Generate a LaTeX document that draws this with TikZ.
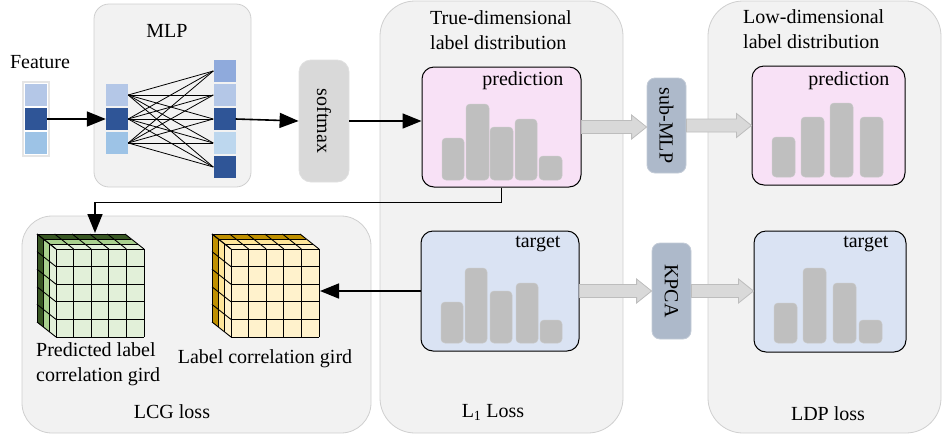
\documentclass[tikz,border=0pt]{standalone}
\usepackage{fontspec}
\setmainfont{Liberation Serif}
\usetikzlibrary{arrows.meta,calc}
\definecolor{panelfill}{HTML}{F2F2F2}
\definecolor{paneledge}{HTML}{CFCFCF}
\definecolor{softfill}{HTML}{D9D9D9}
\definecolor{procfill}{HTML}{ADB9CA}
\definecolor{procedge}{HTML}{C3CBD7}
\definecolor{predfill}{HTML}{F8E1F6}
\definecolor{targfill}{HTML}{DAE3F3}
\definecolor{barfill}{HTML}{BFBFBF}
\definecolor{arrfill}{HTML}{D9D9D9}
\definecolor{arredge}{HTML}{BDBDBD}
\definecolor{vA}{HTML}{B4C7E7}
\definecolor{vB}{HTML}{2F5597}
\definecolor{vC}{HTML}{9DC3E6}
\definecolor{vD}{HTML}{8FAADC}
\definecolor{vE}{HTML}{BDD7EE}
\definecolor{gD}{HTML}{385723}
\definecolor{gM}{HTML}{A9D18E}
\definecolor{gL}{HTML}{E2F0D9}
\definecolor{yD}{HTML}{BF9000}
\definecolor{yM}{HTML}{FFE699}
\definecolor{yL}{HTML}{FFF2CC}
\tikzset{
  panel/.style={fill=panelfill, draw=paneledge, line width=0.8pt, rounded corners=#1},
  panel/.default=30pt,
  distbox/.style={draw=black, line width=1pt, rounded corners=12pt, inner sep=0pt},
  procbox/.style={draw=procedge, fill=procfill, line width=0.8pt, rounded corners=8pt, inner sep=0pt},
  vecsq/.style={minimum width=22pt, minimum height=22pt, inner sep=0pt},
  arr/.style={line width=1.6pt, -{Triangle[length=19pt,width=15pt]}},
  conn/.style={line width=0.8pt},
  blk/.style={fill=arrfill, draw=arredge, line width=0.8pt},
  bar/.style={fill=barfill, draw=barfill!85!white, line width=0.5pt, rounded corners=4pt},
  gridln/.style={line width=0.9pt, draw=black},
}
\newcommand\blockarr[2]{\draw[blk] let \p1=(#1), \p2=(#2) in
  (\x1,\y1+6.5pt) -- (\x2-15pt,\y1+6.5pt) -- (\x2-15pt,\y1+12pt) -- (\x2,\y1)
  -- (\x2-15pt,\y1-12pt) -- (\x2-15pt,\y1-6.5pt) -- (\x1,\y1-6.5pt) -- cycle;}
% cube: #1 x0, #2 y0 (front face top-left), #3 dark, #4 mid, #5 light
\newcommand\gridcube[5]{%
  \def\cx{#1}\def\cy{#2}\def\ddx{-19}\def\ddy{-15}\def\cw{88}\def\cs{17.6}%
  \foreach \sa/\sb/\cc in {1/0.6667/#3,0.6667/0.3333/#4,0.3333/0/#5}{
    \fill[\cc] ({\cx+\sa*\ddx},{\cy+\sa*\ddy}) -- ({\cx+\cw+\sa*\ddx},{\cy+\sa*\ddy})
      -- ({\cx+\cw+\sb*\ddx},{\cy+\sb*\ddy}) -- ({\cx+\sb*\ddx},{\cy+\sb*\ddy}) -- cycle;
    \fill[\cc] ({\cx+\sa*\ddx},{\cy+\sa*\ddy}) -- ({\cx+\sa*\ddx},{\cy+\cw+\sa*\ddy})
      -- ({\cx+\sb*\ddx},{\cy+\cw+\sb*\ddy}) -- ({\cx+\sb*\ddx},{\cy+\sb*\ddy}) -- cycle;
  }
  \fill[#5] (\cx,\cy) rectangle ({\cx+\cw},{\cy+\cw});
  \foreach \i in {0,...,5}{
    \draw[gridln] ({\cx+\i*\cs},\cy) -- ({\cx+\i*\cs},{\cy+\cw});
    \draw[gridln] (\cx,{\cy+\i*\cs}) -- ({\cx+\cw},{\cy+\i*\cs});
    \draw[gridln] ({\cx+\i*\cs},\cy) -- ({\cx+\i*\cs+\ddx},{\cy+\ddy});
    \draw[gridln] (\cx,{\cy+\i*\cs}) -- ({\cx+\ddx},{\cy+\i*\cs+\ddy});
  }
  \foreach \s in {0.3333,0.6667,1}{
    \draw[gridln] ({\cx+\s*\ddx},{\cy+\s*\ddy}) -- ({\cx+\cw+\s*\ddx},{\cy+\s*\ddy});
    \draw[gridln] ({\cx+\s*\ddx},{\cy+\s*\ddy}) -- ({\cx+\s*\ddx},{\cy+\cw+\s*\ddy});
  }
}
\begin{document}
\begin{tikzpicture}[x=1pt,y=-1pt,font=\fontsize{20}{25}\selectfont]
\useasboundingbox (0,0) rectangle (943,440);

% panels
\path[panel=15pt] (94,4) rectangle (251,187);
\path[panel=35pt] (380,1) rectangle (623,433);
\path[panel=35pt] (708,1) rectangle (941,433);
\path[panel=30pt] (22,216) rectangle (371,433);

% texts of panels
\node at (40,62) {Feature};
\node at (167,31) {MLP};
\node[anchor=west, align=left, inner sep=0pt] at (430,30) {True-dimensional\\label distribution};
\node[anchor=west, align=left, inner sep=0pt] at (743,29) {Low-dimensional\\label distribution};
\node at (493,412) {L\textsubscript{1}~Loss};
\node at (828,414) {LDP loss};
\node at (172,412) {LCG loss};

% feature vector
\draw[draw=black!10, line width=1.2pt] (23,82) rectangle (49,156);
\node[vecsq, fill=vA] (f1) at (36,95) {};
\node[vecsq, fill=vB] (f2) at (36,119) {};
\node[vecsq, fill=vC] (f3) at (36,143) {};

% MLP vectors
\node[vecsq, fill=vA] (l1) at (117,95) {};
\node[vecsq, fill=vB] (l2) at (117,119) {};
\node[vecsq, fill=vC] (l3) at (117,143) {};
\node[vecsq, fill=vD] (r1) at (224.5,71) {};
\node[vecsq, fill=vA] (r2) at (224.5,95) {};
\node[vecsq, fill=vB] (r3) at (224.5,119) {};
\node[vecsq, fill=vE] (r4) at (224.5,143) {};
\node[vecsq, fill=vB] (r5) at (224.5,167) {};
\foreach \a in {1,2,3}{\foreach \b in {1,...,5}{\draw[conn] (l\a.east) -- (r\b.west);}}

% softmax
\node[draw=black!12, fill=softfill, line width=0.8pt, rounded corners=12pt, minimum width=50pt, minimum height=122pt, inner sep=0pt] (softmax) at (324,121) {};
\node[rotate=-90] at (softmax.center) {softmax};

% distribution boxes
\node[distbox, fill=predfill, minimum width=159pt, minimum height=120pt] (pred) at (501.5,127) {};
\node[distbox, fill=targfill, minimum width=158pt, minimum height=120pt] (targ) at (500,291) {};
\node[distbox, fill=predfill, minimum width=153pt, minimum height=119pt] (lpred) at (828.5,125.5) {};
\node[distbox, fill=targfill, minimum width=152pt, minimum height=121pt] (ltarg) at (830,291.5) {};
\node[anchor=east] at (567,81) {prediction};
\node[anchor=east] at (564,244) {target};
\node[anchor=east] at (893,81) {prediction};
\node[anchor=east] at (892,244) {target};

% bars
\foreach \xa/\xb/\yt in {442/464/138,466/489/104,490/513/127,515/537/119,539/562/156}
  {\path[bar] (\xa,180) rectangle (\xb,\yt);}
\foreach \xa/\xb/\yt in {441/463/302,465/487/268,490/512/291,516/538/283,540/562/320}
  {\path[bar] (\xa,343) rectangle (\xb,\yt);}
\foreach \xa/\xb/\yt in {772/795/137,801/824/117,830/853/103,860/883/117}
  {\path[bar] (\xa,177) rectangle (\xb,\yt);}
\foreach \xa/\xb/\yt in {774/797/303,803/826/268,833/856/283,859/882/320}
  {\path[bar] (\xa,343) rectangle (\xb,\yt);}

% sub-MLP and KPCA
\node[procbox, minimum width=39pt, minimum height=95pt] (submlp) at (666.5,125.5) {};
\node[rotate=-90] at (submlp.center) {sub-MLP};
\node[procbox, minimum width=39pt, minimum height=96pt] (kpca) at (671.5,291) {};
\node[rotate=-90] at (kpca.center) {KPCA};

% cubes
\gridcube{56}{249}{gD}{gM}{gL}
\gridcube{231}{249}{yD}{yM}{yL}
\coordinate (gtop) at (95,233);
\coordinate (yright) at (320,291);
\node[align=left, anchor=west, inner sep=0pt] at (36,364.5) {Predicted label\\correlation gird};
\node at (265,359) {Label correlation gird};

% connectors
\draw[arr] (f2.east) -- (l2.west);
\draw[arr] (r3.east) -- (softmax.west);
\draw[arr] (softmax.east) -- (softmax.east -| pred.west);
\draw[arr] (pred.south) -- ++(0,15) -| (gtop);
\draw[arr] (targ.west) -- (yright);
\blockarr{pred.east}{submlp.west}
\blockarr{submlp.east}{lpred.west}
\blockarr{targ.east}{kpca.west}
\blockarr{kpca.east}{ltarg.west}
\end{tikzpicture}
\end{document}
